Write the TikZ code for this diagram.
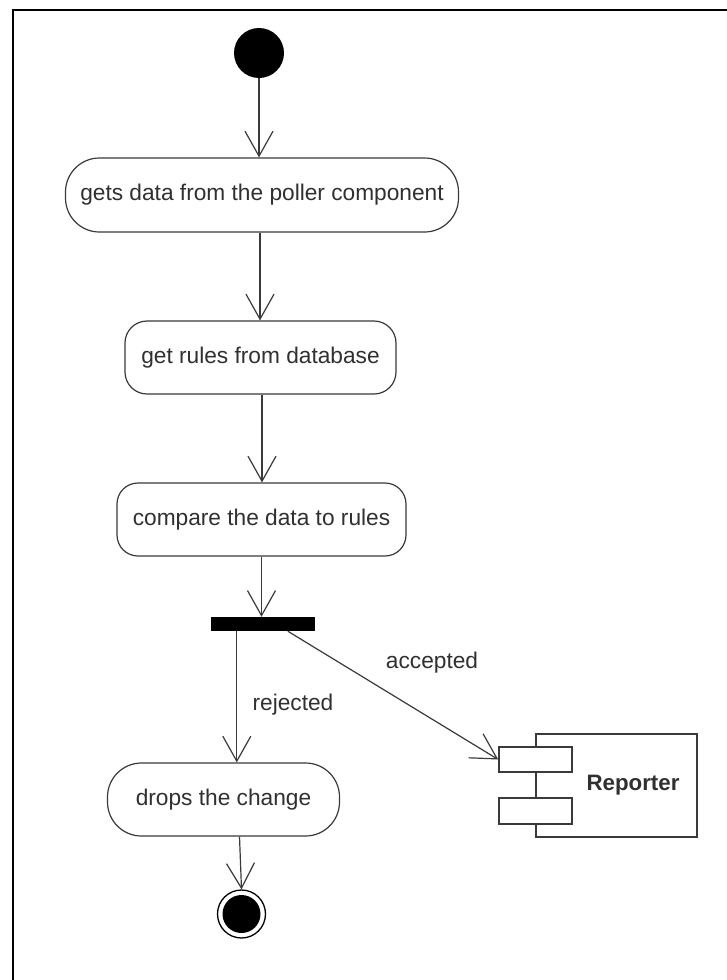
\documentclass[tikz,border=0pt]{standalone}
\usepackage{fontspec}
\setmainfont{Liberation Sans}
\usetikzlibrary{arrows.meta}
\definecolor{ln}{HTML}{3A3A3A}
\definecolor{tx}{HTML}{303030}
\begin{document}
\begin{tikzpicture}[x=1pt,y=-1pt,
  act/.style={draw=ln,line width=1.2pt,fill=white,minimum height=73pt,inner sep=0pt,text=tx,
    font=\fontsize{22.7}{27}\selectfont},
  arr/.style={draw=ln,line width=1.2pt,-{Straight Barb[length=25pt,width=28pt,line width=1.2pt]}},
  lbl/.style={text=tx,inner sep=0pt,font=\fontsize{22.7}{27}\selectfont},
  box/.style={draw=ln,line width=1.5pt,fill=white,inner sep=0pt}]
\useasboundingbox (0,0) rectangle (727,980);
\fill[white] (0,0) rectangle (727,980);
\draw[line width=2pt,black] (13,980) -- (13,10) -- (727,10);

\node[circle,fill=black,minimum size=50pt,inner sep=0pt] (start) at (259,53) {};
\node[act,rounded corners=34pt,minimum width=393pt,minimum height=74pt] (n1) at (262,195) {gets data from the poller component};
\node[act,rounded corners=22pt,minimum width=271pt] (n2) at (260.5,357.5) {get rules from database};
\node[act,rounded corners=21pt,minimum width=289pt] (n3) at (261.5,519.5) {compare the data to rules};
\node[fill=black,minimum width=104pt,minimum height=14pt,inner sep=0pt] (bar) at (263,624) {};
\node[act,rounded corners=34pt,minimum width=232pt] (drop) at (223.5,799.5) {drops the change};
\node[circle,draw=black,line width=1.3pt,fill=white,minimum size=48pt,inner sep=0pt] (endo) at (241.5,914) {};
\node[circle,fill=black,minimum size=38pt,inner sep=0pt] (endi) at (endo) {};

\node[box,minimum width=161pt,minimum height=103pt] (rep) at (616.5,785.5) {};
\node[box,minimum width=73pt,minimum height=25pt] (p1) at (535.5,759.5) {};
\node[box,minimum width=73pt,minimum height=26pt] (p2) at (535.5,811) {};
\node[lbl,font=\fontsize{22.3}{27}\selectfont\bfseries] (replbl) at (633,785) {Reporter};

\draw[arr] (start.south) -- (start.south |- n1.north);
\draw[arr] ([xshift=-2pt]n1.south) -- ([xshift=-2pt]n1.south |- n2.north);
\draw[arr] ([xshift=1.5pt]n2.south) -- ([xshift=1.5pt]n2.south |- n3.north);
\draw[arr] (n3.south) -- (n3.south |- bar.north);
\draw[arr] ([xshift=26pt]bar.south west) -- ([xshift=26pt]bar.south west |- drop.north);
\draw[arr] ([xshift=77pt]bar.south west) -- (p1.west);
\draw[arr] ([xshift=16pt]drop.south) -- (endo.north);

\node[lbl] (rej) at (293,705) {rejected};
\node[lbl] (acc) at (432,663) {accepted};
\end{tikzpicture}
\end{document}
